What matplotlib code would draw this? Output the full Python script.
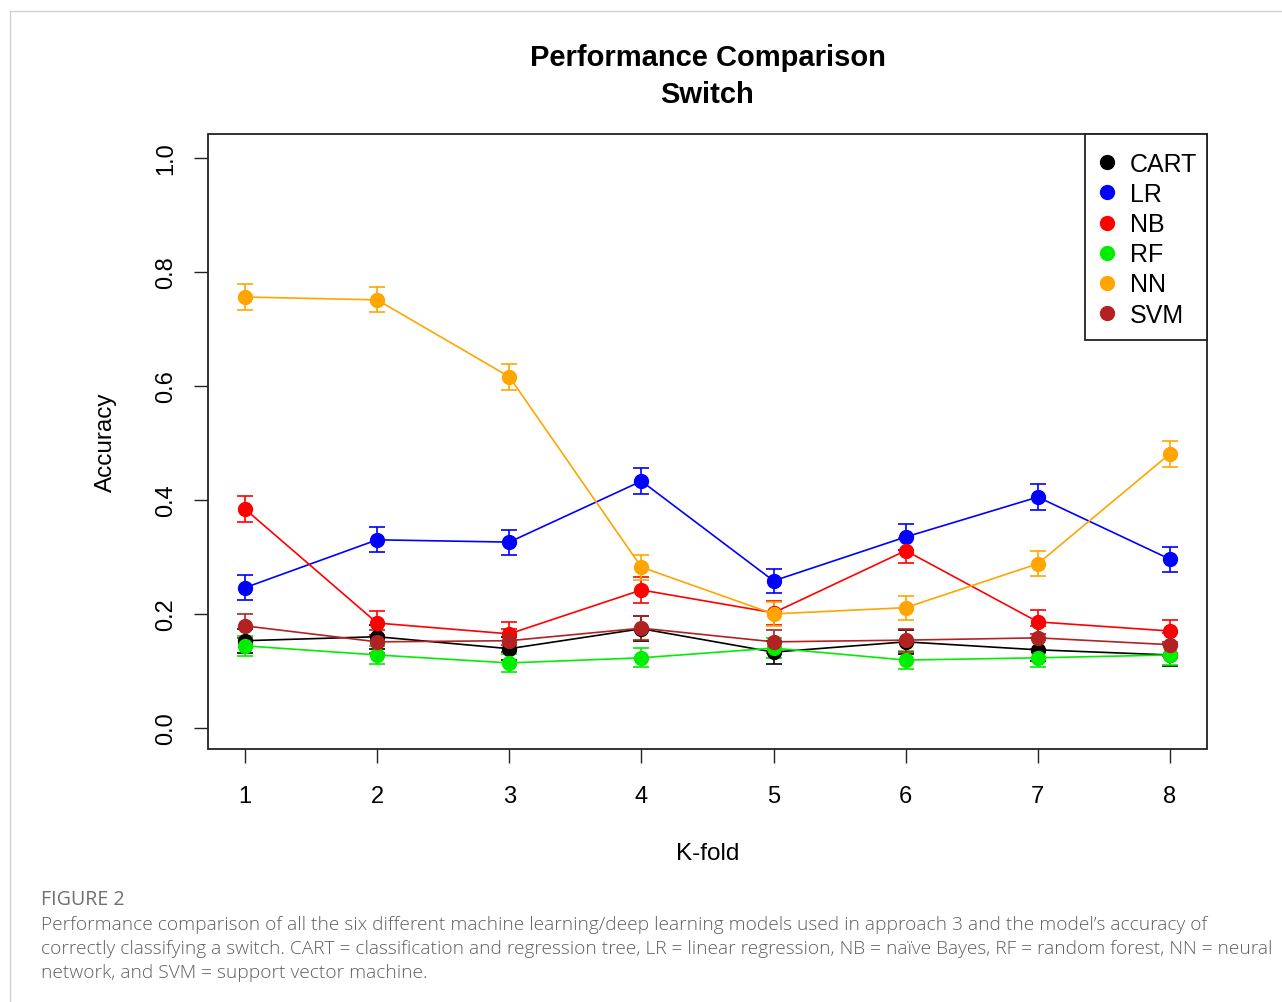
import matplotlib
matplotlib.use("Agg")
import matplotlib.pyplot as plt
from matplotlib.lines import Line2D
from matplotlib.patches import Rectangle

# ---- data ----
kfold = [1, 2, 3, 4, 5, 6, 7, 8]
models = ["CART", "LR", "NB", "RF", "NN", "SVM"]
colors = ["black", "blue", "red", "#00ee00", "orange", "firebrick"]

cart = [0.153, 0.160, 0.139, 0.174, 0.133, 0.151, 0.137, 0.128]
lr   = [0.246, 0.330, 0.326, 0.433, 0.258, 0.335, 0.405, 0.296]
nb   = [0.384, 0.184, 0.165, 0.242, 0.202, 0.311, 0.186, 0.170]
rf   = [0.144, 0.128, 0.114, 0.123, 0.140, 0.119, 0.123, 0.128]
nn   = [0.756, 0.751, 0.616, 0.282, 0.200, 0.211, 0.288, 0.481]
svm  = [0.179, 0.151, 0.153, 0.175, 0.151, 0.154, 0.158, 0.146]

cart_err = [0.021, 0.021, 0.020, 0.022, 0.020, 0.021, 0.020, 0.020]
lr_err   = [0.022, 0.022, 0.022, 0.023, 0.021, 0.022, 0.023, 0.022]
nb_err   = [0.023, 0.021, 0.020, 0.022, 0.021, 0.022, 0.021, 0.020]
rf_err   = [0.017, 0.016, 0.016, 0.017, 0.017, 0.016, 0.016, 0.017]
nn_err   = [0.022, 0.022, 0.023, 0.022, 0.021, 0.021, 0.022, 0.023]
svm_err  = [0.021, 0.020, 0.020, 0.021, 0.020, 0.020, 0.020, 0.020]

series = [cart, lr, nb, rf, nn, svm]
errors = [cart_err, lr_err, nb_err, rf_err, nn_err, svm_err]

title = "Performance Comparison\nSwitch"
xlabel = "K-fold"
ylabel = "Accuracy"
yticks = [0.0, 0.2, 0.4, 0.6, 0.8, 1.0]
ytick_labels = ["0.0", "0.2", "0.4", "0.6", "0.8", "1.0"]
fig_label = "FIGURE 2"
caption = ("Performance comparison of all the six different machine learning/deep learning models used in approach 3 and the model\u2019s accuracy of\n"
           "correctly classifying a switch. CART = classification and regression tree, LR = linear regression, NB = na\u00efve Bayes, RF = random forest, NN = neural\n"
           "network, and SVM = support vector machine.")

W, H = 1282, 1003
fig = plt.figure(figsize=(W / 100, H / 100), dpi=100)
fig.patch.set_facecolor("white")

# outer light border
fig.add_artist(Line2D([10 / W, 10 / W], [0, 1 - 12 / H], color="#d0d0d0", lw=1.0, transform=fig.transFigure))
fig.add_artist(Line2D([10 / W, 1], [1 - 12 / H, 1 - 12 / H], color="#d0d0d0", lw=1.0, transform=fig.transFigure))

left, right, top, bottom = 208, 1207, 135, 750
ax = fig.add_axes([left / W, 1 - bottom / H, (right - left) / W, (bottom - top) / H])

for vals, errs, col in zip(series, errors, colors):
    ax.errorbar(kfold, vals, yerr=errs, color=col, marker="o", markersize=10,
                lw=1.2, elinewidth=1.2, capsize=6, capthick=1.2)

ax.set_xlim(0.72, 8.28)
ax.set_ylim(-0.037, 1.042)
ax.set_xticks(kfold)
ax.set_xticklabels([str(k) for k in kfold], fontsize=17, family="Liberation Sans")
ax.set_yticks(yticks)
ax.set_yticklabels(ytick_labels, fontsize=17, family="Liberation Sans", rotation=90, va="center")
ax.tick_params(axis="both", direction="out", length=10, width=1.0, color="#222222")
ax.tick_params(axis="x", pad=16)
ax.tick_params(axis="y", pad=12)
for s in ax.spines.values():
    s.set_visible(False)
# R-style box
ax.add_patch(Rectangle((0, 0), 1, 1, transform=ax.transAxes, fill=False, ec="#222222", lw=1.3, clip_on=False, zorder=10))

ax.set_xlabel(xlabel, fontsize=17.5, family="Liberation Sans", labelpad=25)
ax.set_ylabel(ylabel, fontsize=17.5, family="Liberation Sans", labelpad=28)

fig.text(707.5 / W, 1 - 76.5 / H, title, ha="center", va="center", fontsize=21, fontweight="bold",
         family="Liberation Sans", linespacing=1.38)

# legend (R-style box drawn separately)
ax_w, ax_h = right - left, bottom - top
leg_x0 = (1085 - left) / ax_w
leg_y0 = (bottom - 341) / ax_h
ax.add_patch(Rectangle((leg_x0, leg_y0), 1 - leg_x0, 1 - leg_y0, transform=ax.transAxes,
                       facecolor="white", ec="#222222", lw=1.3, clip_on=False, zorder=11))
handles = [Line2D([], [], marker="o", color=c, ls="none", markersize=10) for c in colors]
leg = ax.legend(handles, models, loc="upper left", bbox_to_anchor=(leg_x0, 1.0 - 3 / ax_h), borderaxespad=0,
                frameon=False, prop={"family": "Liberation Sans", "size": 18},
                handletextpad=0.64, labelspacing=0.245, borderpad=0.6, handlelength=0.56)
leg.set_zorder(12)

fig.text(41 / W, 1 - 900 / H, fig_label, ha="left", va="center", fontsize=14.1, color="#707070",
         family="Open Sans")
fig.text(41 / W, 1 - 916 / H, caption, ha="left", va="top", fontsize=13.8, color="#5f5f5f",
         family="Open Sans", fontweight="light", linespacing=1.43)

fig.savefig("out.png", dpi=100, facecolor="white")
